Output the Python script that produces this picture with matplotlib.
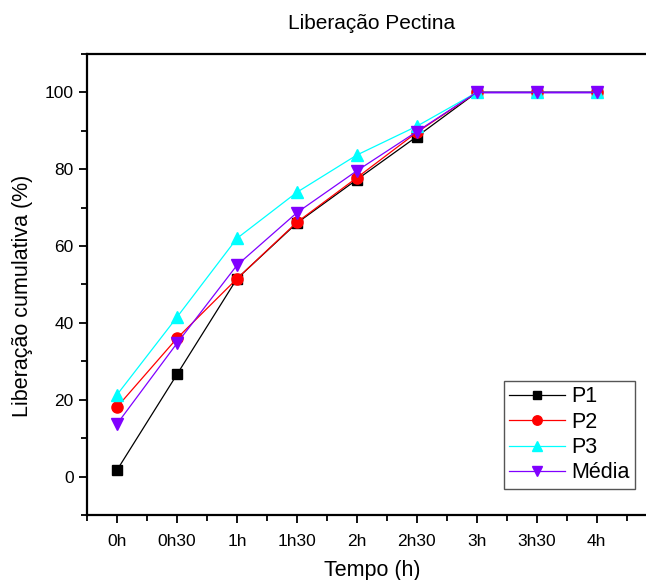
import numpy as np
import matplotlib.pyplot as plt
from matplotlib.ticker import MultipleLocator

plt.rcParams['font.family'] = ['Liberation Sans', 'DejaVu Sans']

# dados
tempos = ['0h', '0h30', '1h', '1h30', '2h', '2h30', '3h', '3h30', '4h']
p1 = [1.7, 26.6, 51.5, 66.0, 77.3, 88.5, 100, 100, 100]
p2 = [18.1, 36.0, 51.5, 66.2, 77.8, 89.6, 100, 100, 100]
p3 = [21.3, 41.5, 62.0, 74.0, 83.7, 91.2, 100, 100, 100]
media = [13.7, 34.7, 55.0, 68.7, 79.6, 89.8, 100, 100, 100]

x = np.arange(len(tempos))

fig = plt.figure(figsize=(6.46, 5.8), dpi=100)
ax = fig.add_axes([0.1347, 0.112, 0.882, 0.795])

ax.plot(x, p1, '-s', color='black', lw=0.9, ms=7, label='P1')
ax.plot(x, p2, '-o', color='red', lw=0.9, ms=8, label='P2')
ax.plot(x, p3, '-^', color='cyan', lw=0.9, ms=9, label='P3')
ax.plot(x, media, '-v', color='#8000ff', lw=0.9, ms=9, label='Média')
# linha 3h-4h aparece mais clara/grossa no original
ax.plot(x[6:], media[6:], '-', color='#c080ff', lw=2, zorder=1)

ax.set_xlim(-0.5, 9)
ax.set_ylim(-10, 110)
ax.set_xticks(x)
ax.set_xticklabels(tempos)
ax.xaxis.set_minor_locator(MultipleLocator(0.5))
ax.yaxis.set_major_locator(MultipleLocator(20))
ax.yaxis.set_minor_locator(MultipleLocator(10))
ax.tick_params(which='major', direction='out', length=6, width=1.3, labelsize=12.5)
ax.tick_params(which='minor', direction='out', length=4, width=1.3)
ax.tick_params(axis='x', pad=8)

for s in ax.spines.values():
    s.set_linewidth(1.6)

ax.set_title('Liberação Pectina', fontsize=15, pad=18)
ax.set_xlabel('Tempo (h)', fontsize=15.5)
ax.set_ylabel('Liberação cumulativa (%)', fontsize=15.5)
ax.xaxis.set_label_coords(0.5, -0.098)
ax.yaxis.set_label_coords(-0.095, 0.476)

leg = ax.legend(loc='lower right', bbox_to_anchor=(0.962, 0.057), fontsize=15.5,
                fancybox=False, edgecolor='#555555', framealpha=1, markerscale=0.85,
                handlelength=2.6, borderpad=0.25, labelspacing=0.2, handletextpad=0.3,
                borderaxespad=0)
leg.get_frame().set_linewidth(1.0)

fig.savefig('out.png', dpi=100)
